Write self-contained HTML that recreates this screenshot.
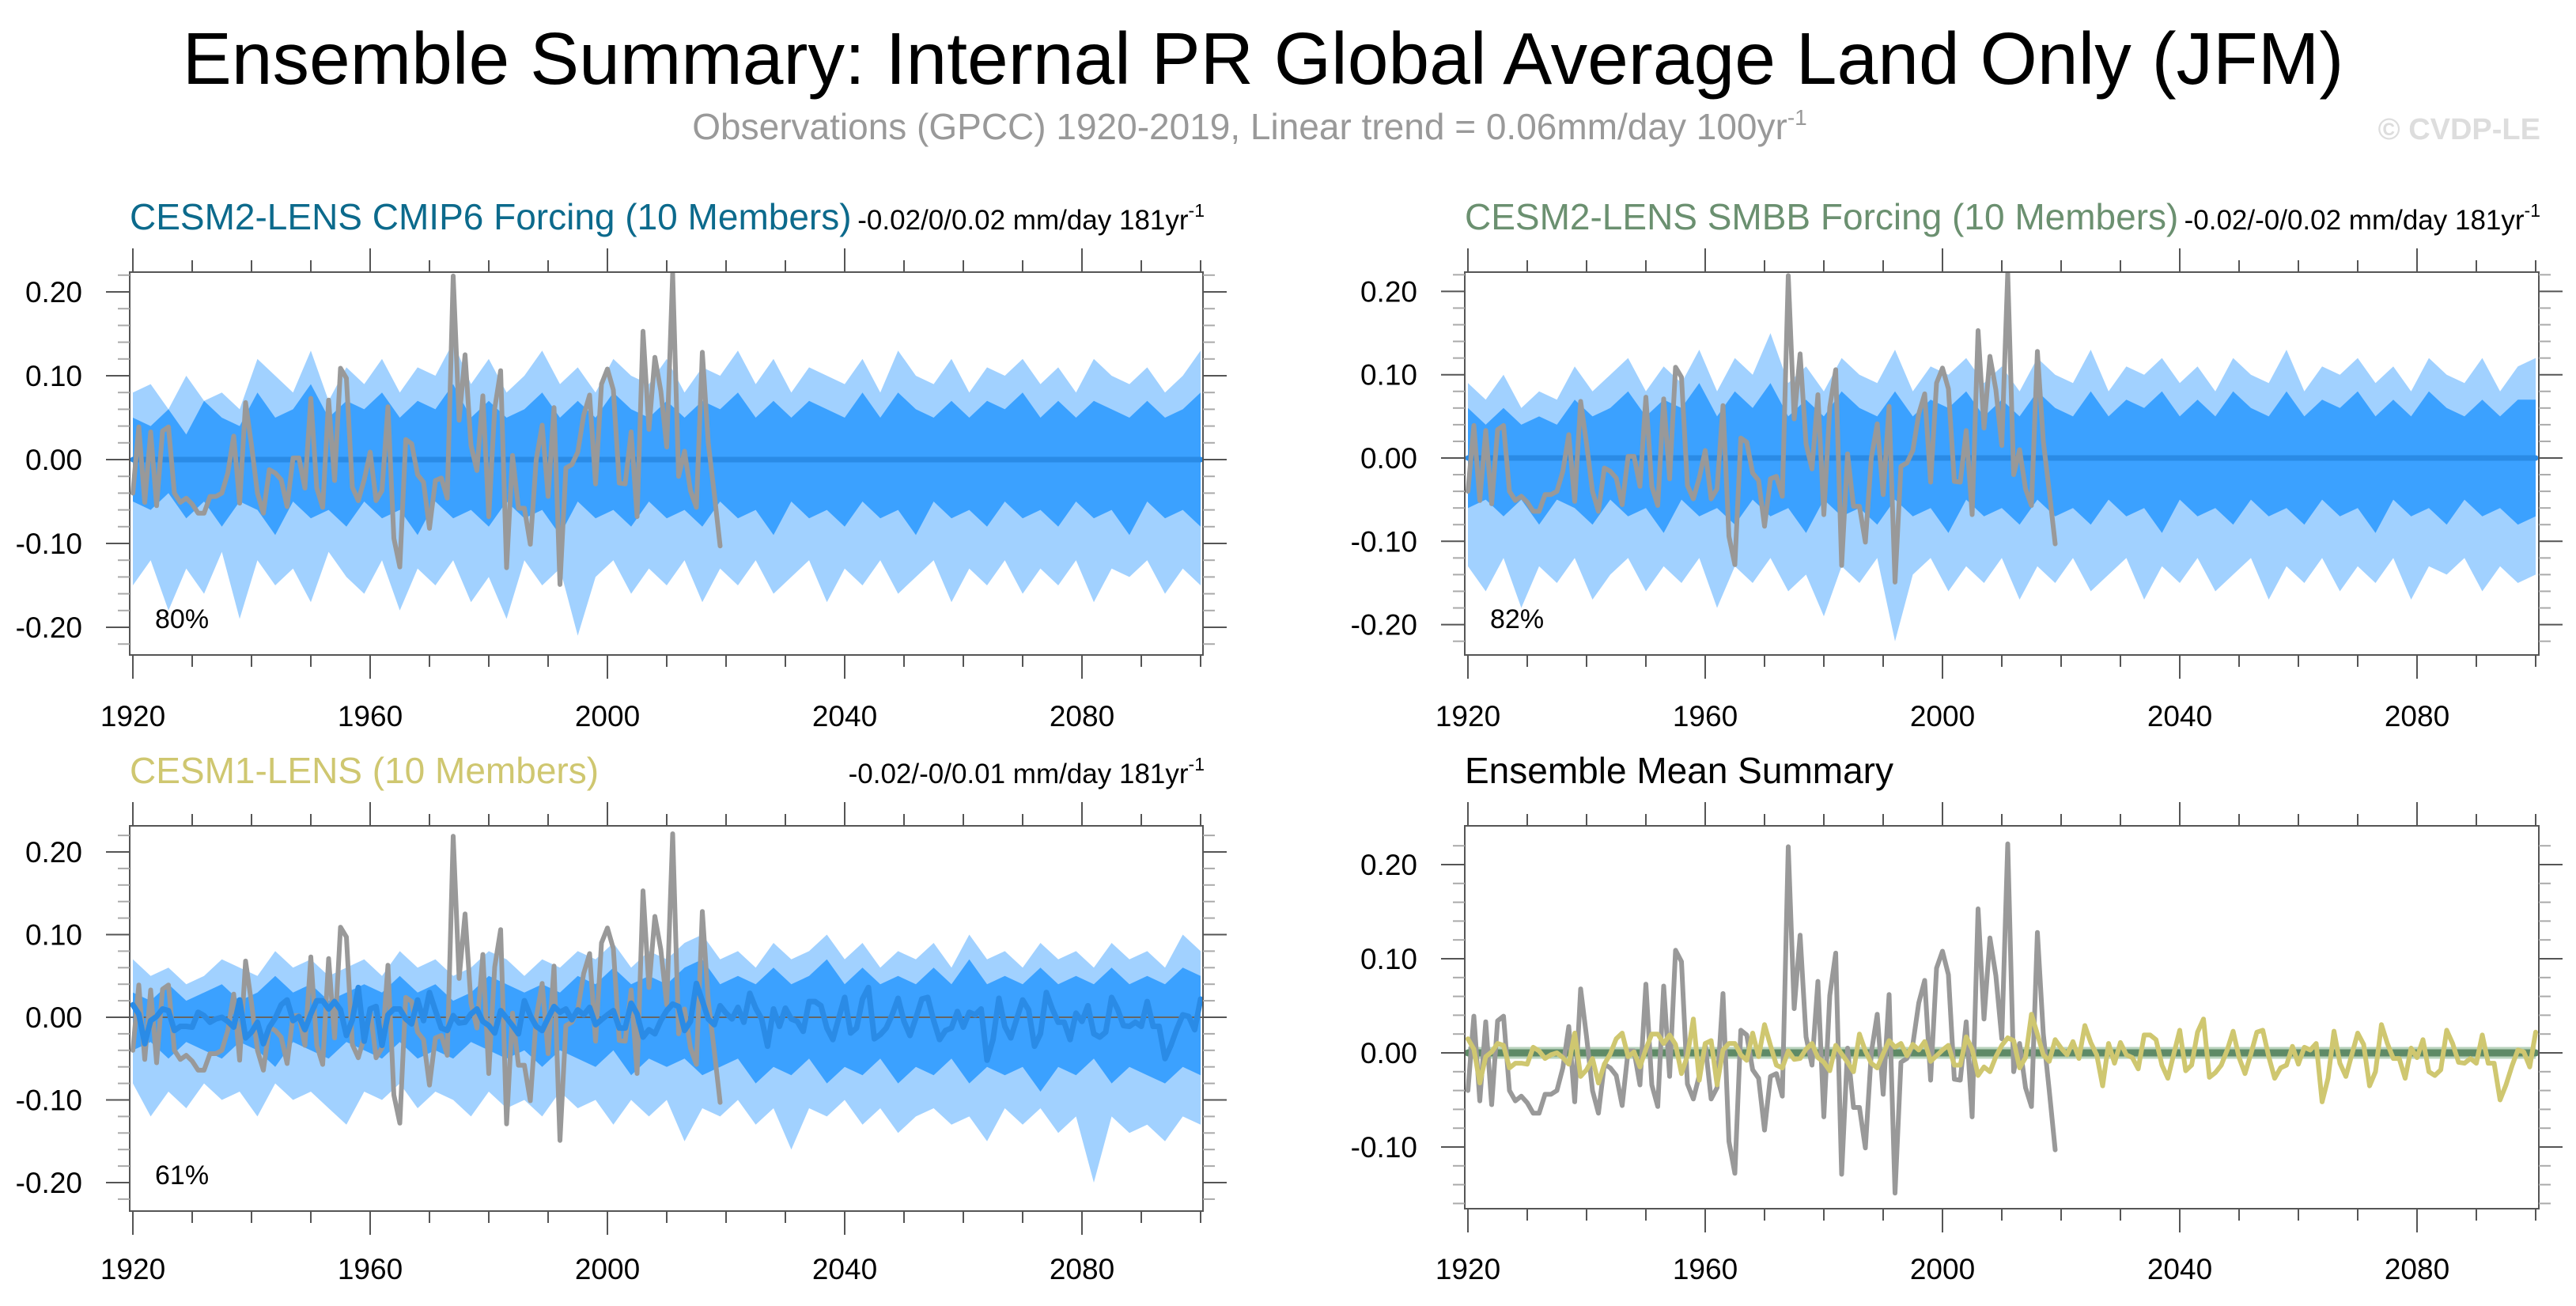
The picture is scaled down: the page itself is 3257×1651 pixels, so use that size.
<!DOCTYPE html>
<html><head><meta charset="utf-8"><style>
html,body{margin:0;padding:0;background:#fff;}
svg{display:block;font-family:"Liberation Sans",Arial,sans-serif;}
</style></head><body>
<svg id="chart" xmlns="http://www.w3.org/2000/svg" width="3257" height="1651" viewBox="0 0 3257 1651">
<rect x="0" y="0" width="3257" height="1651" fill="#fff"/>
<text x="1597" y="106" font-size="93" text-anchor="middle" fill="#000">Ensemble Summary: Internal PR Global Average Land Only (JFM)</text>
<text x="1580" y="176" font-size="46" text-anchor="middle" fill="#999">Observations (GPCC) 1920-2019, Linear trend = 0.06mm/day 100yr<tspan font-size="28" dy="-18">-1</tspan></text>
<text x="3212" y="176" font-size="38" font-weight="bold" text-anchor="end" fill="#ddd">© CVDP-LE</text>
<g id="plots"></g>
</svg>
<script>
// ---- data ----
const obs = [-0.040,0.039,-0.051,0.033,-0.055,0.034,0.039,-0.040,-0.051,-0.046,
-0.053,-0.064,-0.064,-0.044,-0.044,-0.040,-0.016,0.028,-0.052,0.068,
0.017,-0.040,-0.064,-0.012,-0.016,-0.024,-0.056,0.002,0.002,-0.034,
0.073,-0.034,-0.057,0.071,-0.025,0.109,0.097,-0.033,-0.049,-0.024,
0.009,-0.049,-0.037,0.063,-0.094,-0.128,0.024,0.019,-0.018,-0.027,
-0.082,-0.025,-0.022,-0.046,0.219,0.047,0.125,0.017,-0.013,0.076,
-0.068,0.061,0.106,-0.129,0.005,-0.058,-0.058,-0.101,0.000,0.041,
-0.044,0.062,-0.149,-0.010,-0.006,0.009,0.053,0.077,-0.029,0.090,
0.108,0.083,-0.028,-0.029,0.033,-0.068,0.153,0.036,0.122,0.082,
0.015,0.222,-0.020,0.010,-0.037,-0.057,0.128,0.020,-0.040,-0.103];
const cesm1Mean = [0.015,0.004,-0.032,-0.004,0.001,0.010,0.008,-0.016,-0.011,-0.011,
-0.012,0.006,0.002,-0.006,-0.002,0.000,-0.005,-0.012,0.021,-0.025,
-0.018,-0.006,-0.032,-0.012,-0.001,0.015,0.021,-0.004,0.001,-0.015,
0.004,0.020,0.020,0.010,0.019,0.009,-0.022,-0.003,0.036,-0.029,
0.010,0.013,-0.034,0.003,0.010,0.010,-0.002,-0.008,0.021,-0.004,
0.030,0.008,-0.013,-0.016,0.002,-0.007,-0.006,0.004,0.010,-0.005,
-0.010,-0.019,0.008,-0.001,-0.010,-0.020,0.020,0.002,-0.011,-0.016,
-0.001,0.013,0.006,0.010,-0.003,0.009,0.003,0.012,-0.009,-0.003,
0.003,0.008,-0.013,-0.013,0.017,0.004,-0.024,-0.015,-0.020,-0.004,
0.008,0.016,0.013,-0.016,-0.005,0.041,0.020,-0.002,-0.009,0.014,
0.005,-0.002,
0.012,-0.006,0.029,0.011,-0.002,-0.035,0.010,-0.011,0.011,-0.002,
-0.005,-0.017,0.019,0.019,0.014,-0.013,-0.027,-0.001,0.024,-0.019,
-0.013,0.022,0.036,-0.026,-0.021,-0.013,0.003,0.023,-0.005,-0.022,
-0.001,0.022,0.024,-0.004,-0.027,-0.016,-0.013,0.007,-0.012,0.006,
0.003,0.010,-0.052,-0.027,0.023,-0.011,-0.025,-0.002,0.021,0.009,
-0.035,-0.020,0.030,0.010,-0.006,-0.006,-0.027,0.005,-0.005,0.014,
-0.020,-0.024,-0.018,0.024,0.010,-0.010,-0.011,-0.006,-0.011,0.019,
-0.011,-0.011,-0.050,-0.034,-0.014,0.003,0.001,-0.015,0.022];
const cesm2Cmip6Mean = [0,0,0,0,0,0,0,0,0,0,0,0,0,0,0,0,0,0,0,0,0,0,0,0,0,0,0,0,0,0,0,0,0,0,0,0,0,0,0,0,0,0,0,0,0,0,0,0,0,0,0,0,0,0,0,0,0,0,0,0,0];
const cesm2SmbbMean = [0,0,0,0,0,0,0,0,0,0,0,0,0,0,0,0,0,0,0,0,0,0,0,0,0,0,0,0,0,0,0,0,0,0,0,0,0,0,0,0,0,0,0,0,0,0,0,0,0,0,0,0,0,0,0,0,0,0,0,0,0];
const bandStep = 3;
const p1OutUp = [0.08,0.09,0.06,0.10,0.07,0.08,0.06,0.12,0.10,0.08,0.13,0.07,0.11,0.09,0.12,0.08,0.11,0.10,0.14,0.09,0.12,0.08,0.10,0.13,0.09,0.11,0.08,0.12,0.10,0.09,0.12,0.08,0.11,0.10,0.13,0.09,0.12,0.08,0.11,0.10,0.09,0.12,0.08,0.13,0.10,0.09,0.12,0.08,0.11,0.10,0.12,0.09,0.11,0.08,0.12,0.10,0.09,0.11,0.08,0.10,0.13];
const p1InUp = [0.05,0.04,0.06,0.03,0.07,0.05,0.04,0.08,0.05,0.06,0.09,0.05,0.07,0.06,0.08,0.05,0.07,0.06,0.09,0.05,0.07,0.05,0.06,0.08,0.05,0.07,0.05,0.08,0.06,0.05,0.07,0.05,0.07,0.06,0.08,0.05,0.07,0.05,0.07,0.06,0.05,0.08,0.05,0.08,0.06,0.05,0.07,0.05,0.07,0.06,0.08,0.05,0.07,0.05,0.07,0.06,0.05,0.07,0.05,0.06,0.08];
const p1InLo = [-0.05,-0.06,-0.04,-0.07,-0.05,-0.08,-0.05,-0.06,-0.09,-0.05,-0.07,-0.06,-0.08,-0.05,-0.07,-0.06,-0.09,-0.05,-0.07,-0.06,-0.08,-0.05,-0.07,-0.06,-0.09,-0.05,-0.07,-0.06,-0.08,-0.05,-0.07,-0.06,-0.08,-0.05,-0.07,-0.06,-0.09,-0.05,-0.07,-0.06,-0.08,-0.05,-0.07,-0.06,-0.09,-0.05,-0.07,-0.06,-0.08,-0.05,-0.07,-0.06,-0.08,-0.05,-0.07,-0.06,-0.09,-0.05,-0.07,-0.06,-0.08];
const p1OutLo = [-0.15,-0.12,-0.18,-0.13,-0.16,-0.11,-0.19,-0.12,-0.15,-0.13,-0.17,-0.11,-0.14,-0.16,-0.12,-0.18,-0.13,-0.15,-0.12,-0.17,-0.14,-0.19,-0.12,-0.15,-0.13,-0.21,-0.14,-0.12,-0.16,-0.13,-0.15,-0.12,-0.17,-0.13,-0.15,-0.12,-0.16,-0.14,-0.12,-0.17,-0.13,-0.15,-0.12,-0.16,-0.14,-0.12,-0.17,-0.13,-0.15,-0.12,-0.16,-0.13,-0.15,-0.12,-0.17,-0.13,-0.14,-0.12,-0.16,-0.13,-0.15];
const p2OutUp = [0.09,0.07,0.10,0.06,0.08,0.07,0.11,0.08,0.10,0.12,0.08,0.11,0.09,0.13,0.08,0.12,0.10,0.15,0.09,0.11,0.08,0.12,0.10,0.09,0.13,0.08,0.11,0.10,0.12,0.09,0.11,0.08,0.12,0.10,0.09,0.13,0.08,0.11,0.10,0.12,0.09,0.11,0.08,0.12,0.10,0.09,0.13,0.08,0.11,0.10,0.12,0.09,0.11,0.08,0.12,0.10,0.09,0.12,0.08,0.11,0.12];
const p2InUp = [0.06,0.04,0.06,0.04,0.05,0.04,0.07,0.05,0.06,0.08,0.05,0.07,0.06,0.09,0.05,0.08,0.06,0.09,0.05,0.07,0.05,0.08,0.06,0.05,0.08,0.05,0.07,0.06,0.08,0.05,0.07,0.05,0.08,0.06,0.05,0.08,0.05,0.07,0.06,0.08,0.05,0.07,0.05,0.08,0.06,0.05,0.08,0.05,0.07,0.06,0.08,0.05,0.07,0.05,0.08,0.06,0.05,0.07,0.05,0.07,0.07];
const p2InLo = [-0.06,-0.05,-0.07,-0.05,-0.08,-0.05,-0.06,-0.08,-0.05,-0.07,-0.06,-0.09,-0.05,-0.07,-0.06,-0.08,-0.05,-0.07,-0.06,-0.09,-0.05,-0.07,-0.06,-0.08,-0.05,-0.07,-0.06,-0.09,-0.05,-0.07,-0.06,-0.08,-0.05,-0.07,-0.06,-0.08,-0.05,-0.07,-0.06,-0.09,-0.05,-0.07,-0.06,-0.08,-0.05,-0.07,-0.06,-0.08,-0.05,-0.07,-0.06,-0.09,-0.05,-0.07,-0.06,-0.08,-0.05,-0.07,-0.06,-0.08,-0.07];
const p2OutLo = [-0.13,-0.16,-0.12,-0.18,-0.13,-0.15,-0.12,-0.17,-0.14,-0.12,-0.16,-0.13,-0.15,-0.12,-0.18,-0.13,-0.15,-0.12,-0.16,-0.14,-0.19,-0.13,-0.15,-0.12,-0.22,-0.14,-0.12,-0.16,-0.13,-0.15,-0.12,-0.17,-0.13,-0.15,-0.12,-0.16,-0.14,-0.12,-0.17,-0.13,-0.15,-0.12,-0.16,-0.14,-0.12,-0.17,-0.13,-0.15,-0.12,-0.16,-0.13,-0.15,-0.12,-0.17,-0.13,-0.14,-0.12,-0.16,-0.13,-0.15,-0.14];
const p3OutUp = [0.07,0.05,0.06,0.04,0.05,0.07,0.06,0.05,0.08,0.06,0.07,0.05,0.06,0.07,0.05,0.08,0.06,0.07,0.05,0.06,0.08,0.07,0.05,0.07,0.06,0.08,0.07,0.09,0.06,0.08,0.07,0.09,0.10,0.07,0.08,0.06,0.09,0.07,0.08,0.10,0.07,0.09,0.06,0.08,0.07,0.09,0.06,0.10,0.07,0.08,0.06,0.09,0.07,0.08,0.06,0.09,0.07,0.08,0.06,0.10,0.08];
const p3InUp = [0.03,0.02,0.04,0.02,0.03,0.04,0.02,0.03,0.05,0.03,0.04,0.02,0.03,0.04,0.03,0.05,0.03,0.04,0.02,0.03,0.05,0.04,0.03,0.04,0.03,0.05,0.04,0.06,0.04,0.05,0.04,0.06,0.07,0.04,0.05,0.04,0.06,0.04,0.05,0.07,0.04,0.06,0.04,0.05,0.04,0.06,0.04,0.07,0.04,0.05,0.04,0.06,0.04,0.05,0.04,0.06,0.04,0.05,0.04,0.06,0.05];
const p3InLo = [-0.04,-0.03,-0.05,-0.03,-0.04,-0.05,-0.03,-0.04,-0.06,-0.03,-0.04,-0.05,-0.03,-0.04,-0.05,-0.03,-0.05,-0.04,-0.05,-0.03,-0.04,-0.05,-0.04,-0.06,-0.04,-0.05,-0.06,-0.04,-0.07,-0.05,-0.06,-0.05,-0.07,-0.06,-0.05,-0.08,-0.06,-0.07,-0.05,-0.08,-0.06,-0.07,-0.05,-0.08,-0.06,-0.07,-0.05,-0.08,-0.06,-0.07,-0.06,-0.09,-0.06,-0.07,-0.05,-0.08,-0.06,-0.07,-0.08,-0.06,-0.07];
const p3OutLo = [-0.08,-0.12,-0.09,-0.11,-0.08,-0.10,-0.09,-0.12,-0.08,-0.10,-0.09,-0.11,-0.13,-0.09,-0.10,-0.08,-0.11,-0.09,-0.10,-0.12,-0.09,-0.11,-0.10,-0.12,-0.09,-0.11,-0.10,-0.13,-0.10,-0.12,-0.10,-0.15,-0.11,-0.12,-0.10,-0.13,-0.11,-0.16,-0.11,-0.12,-0.10,-0.13,-0.11,-0.14,-0.12,-0.11,-0.13,-0.12,-0.15,-0.11,-0.13,-0.11,-0.14,-0.12,-0.20,-0.12,-0.14,-0.13,-0.15,-0.12,-0.13];
const xTickLabels = ["1920","1960","2000","2040","2080"];
const xTickYears = [1920,1960,2000,2040,2080];
const yTicksABC = [0.2,0.1,0,-0.1,-0.2];
const yTicksD = [0.2,0.1,0,-0.1];
const pctLabels = ["80%","82%","61%"];

// ---- drawing ----
const NS = "http://www.w3.org/2000/svg";
const root = document.getElementById('plots');
function mk(tag, attrs, parent){
  const e = document.createElementNS(NS, tag);
  for (const k in attrs) e.setAttribute(k, attrs[k]);
  (parent||root).appendChild(e);
  return e;
}
function makeAxes(p){
  const sx = v => p.x1920 + (v-1920)*(p.x2100-p.x1920)/180;
  const sy = v => p.y0 - v*p.k;
  return {sx, sy};
}
function bandPath(ax, up, lo){
  let d = "";
  up.forEach((v,i)=>{ d += (i?"L":"M") + ax.sx(1920+i*bandStep).toFixed(1) + "," + ax.sy(v).toFixed(1); });
  for (let i=lo.length-1;i>=0;i--) d += "L" + ax.sx(1920+i*bandStep).toFixed(1) + "," + ax.sy(lo[i]).toFixed(1);
  return d + "Z";
}
function linePath(ax, arr, y0, step){
  let d = "";
  arr.forEach((v,i)=>{ d += (i?"L":"M") + ax.sx(y0+i*step).toFixed(1) + "," + ax.sy(v).toFixed(1); });
  return d;
}
function drawPanel(p){
  const ax = makeAxes(p);
  const g = mk('g', {});
  
  
  const clipId = p.name + '-clip';
  const cp = mk('clipPath', {id: clipId}, g);
  mk('rect', {x:p.left, y:p.top, width:p.right-p.left, height:p.bottom-p.top}, cp);
  const inner = mk('g', {'clip-path':'url(#'+clipId+')'}, g);
  if (p.bands){
    const b1 = mk('path', {d: bandPath(ax, p.bands[0], p.bands[3]), fill:'#a1d1ff'}, inner);
    
    
    const b2 = mk('path', {d: bandPath(ax, p.bands[1], p.bands[2]), fill:'#3ba1ff'}, inner);
    
    
  }
  if (p.zeroLine){
    const z = mk('line', {x1:p.left, x2:p.right, y1:ax.sy(0), y2:ax.sy(0), stroke:'#666', 'stroke-width':2}, inner);
    
    
  }
  (p.lines||[]).forEach(L=>{
    if (L.halo){
      mk('path', {d: linePath(ax, L.data, 1920, L.step), fill:'none', stroke:L.halo, 'stroke-width':L.w+6, 'stroke-linejoin':'round'}, inner);
    }
    const pl = mk('path', {d: linePath(ax, L.data, 1920, L.step), fill:'none', stroke:L.color, 'stroke-width':L.w, 'stroke-linejoin':'round', 'stroke-linecap':'round'}, inner);
    
    
  });
  const fr = mk('rect', {x:p.left, y:p.top, width:p.right-p.left, height:p.bottom-p.top, fill:'none', stroke:'#555', 'stroke-width':2}, g);
  
  
  for (let yr=1920; yr<=2100; yr+=10){
    const X = ax.sx(yr);
    const len = (yr-1920)%40===0 ? 30 : 15;
    mk('line', {x1:X, x2:X, y1:p.top, y2:p.top-len, stroke:'#555', 'stroke-width':2}, g);
    mk('line', {x1:X, x2:X, y1:p.bottom, y2:p.bottom+len, stroke:'#555', 'stroke-width':2}, g);
  }
  xTickLabels.forEach((lab,i)=>{
    const t = mk('text', {x:ax.sx(xTickYears[i]), y:p.xLabY, 'font-size':37, 'text-anchor':'middle', fill:'#000'}, g);
    t.textContent = lab;
    
    
  });
  for (let m=-30; m<=30; m+=2){
    const v = m/100;
    const Y = ax.sy(v);
    if (Y < p.top+2 || Y > p.bottom-2) continue;
    const major = (m%10===0);
    const len = major ? 30 : 15;
    mk('line', {x1:p.left, x2:p.left-len, y1:Y, y2:Y, stroke: major?'#555':'#aaa', 'stroke-width':2}, g);
    mk('line', {x1:p.right, x2:p.right+len, y1:Y, y2:Y, stroke: major?'#555':'#aaa', 'stroke-width':2}, g);
  }
  p.yTicks.forEach(v=>{
    const t = mk('text', {x:p.left-60, y:ax.sy(v)+13, 'font-size':37, 'text-anchor':'end', fill:'#000'}, g);
    t.textContent = v.toFixed(2);
    
    
  });
  const tt = mk('text', {x:p.left, y:p.titleY, 'font-size':46, fill:p.titleColor}, g);
  tt.textContent = p.title;
  
  
  if (p.trend){
    const tr = mk('text', {x:p.right+2, y:p.titleY, 'font-size':35, 'text-anchor':'end', fill:'#000'}, g);
    
    
    tr.appendChild(document.createTextNode(p.trend));
    const sup = mk('tspan', {'font-size':23, dy:-16}, tr);
    sup.textContent = '-1';
  }
  if (p.pct){
    const pc = mk('text', {x:p.left+32, y:p.bottom-34, 'font-size':34, fill:'#000'}, g);
    pc.textContent = p.pct;
    
    
  }
}
drawPanel({name:'panel-cesm2-cmip6', left:164, right:1521, top:344, bottom:828, x1920:168, x2100:1518, y0:581, k:1060,
  bands:[p1OutUp,p1InUp,p1InLo,p1OutLo], yTicks:yTicksABC, xLabY:918,
  lines:[{name:'ensemble-mean-line', data:cesm2Cmip6Mean, step:3, color:'#2a8be6', w:7},
         {name:'observations-line', data:obs, step:1, color:'#999', w:6}],
  title:'CESM2-LENS CMIP6 Forcing (10 Members)', titleColor:'#0c6a8c', titleY:290,
  trend:'-0.02/0/0.02 mm/day 181yr', pct:pctLabels[0]});
drawPanel({name:'panel-cesm2-smbb', left:1852, right:3210, top:344, bottom:828, x1920:1856, x2100:3206, y0:579, k:1053,
  bands:[p2OutUp,p2InUp,p2InLo,p2OutLo], yTicks:yTicksABC, xLabY:918,
  lines:[{name:'ensemble-mean-line', data:cesm2SmbbMean, step:3, color:'#2a8be6', w:7},
         {name:'observations-line', data:obs, step:1, color:'#999', w:6}],
  title:'CESM2-LENS SMBB Forcing (10 Members)', titleColor:'#6b9070', titleY:290,
  trend:'-0.02/-0/0.02 mm/day 181yr', pct:pctLabels[1]});
drawPanel({name:'panel-cesm1', left:164, right:1521, top:1044, bottom:1531, x1920:168, x2100:1518, y0:1286, k:1045,
  bands:[p3OutUp,p3InUp,p3InLo,p3OutLo], yTicks:yTicksABC, xLabY:1617, zeroLine:true,
  lines:[{name:'observations-line', data:obs, step:1, color:'#999', w:6},
         {name:'ensemble-mean-line', data:cesm1Mean, step:1, color:'#2a8be6', w:7}],
  title:'CESM1-LENS (10 Members)', titleColor:'#cfc770', titleY:990,
  trend:'-0.02/-0/0.01 mm/day 181yr', pct:pctLabels[2]});
drawPanel({name:'panel-ensemble-mean-summary', left:1852, right:3210, top:1044, bottom:1528, x1920:1856, x2100:3206, y0:1331, k:1190,
  yTicks:yTicksD, xLabY:1617,
  lines:[{name:'cesm2-cmip6-mean-line', data:cesm2Cmip6Mean, step:3, color:'#2a8be6', w:8},
         {name:'cesm2-smbb-mean-line', data:cesm2SmbbMean, step:3, color:'#5e8a66', w:9, halo:'#b9d3bd'},
         {name:'observations-line', data:obs, step:1, color:'#999', w:6},
         {name:'cesm1-mean-line', data:cesm1Mean, step:1, color:'#cfc770', w:6}],
  title:'Ensemble Mean Summary', titleColor:'#000', titleY:990});
</script>
</body></html>
